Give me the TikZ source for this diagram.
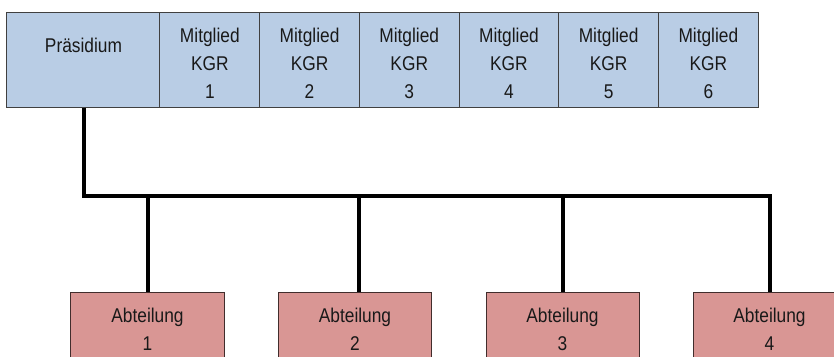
\documentclass[tikz,border=0pt]{standalone}
\usepackage{fontspec}
\setmainfont{Liberation Sans}[FakeStretch=0.87]
\usetikzlibrary{calc}
\definecolor{kgrblue}{HTML}{B9CDE5}
\definecolor{abtred}{HTML}{D99694}
\definecolor{rahmen}{HTML}{404040}

\begin{document}
\begin{tikzpicture}[x=0.03cm, y=-0.03cm,
		every node/.style={font=\fontsize{17pt}{23.9pt}\selectfont, text=black!90},
		cell/.style={draw=rahmen, line width=0.3mm, fill=kgrblue, minimum height=2.85cm, inner sep=0pt},
		abtbox/.style={draw=black!70!abtred, line width=0.3mm, fill=abtred, minimum width=4.59cm, minimum height=2.22cm, align=center, inner sep=0pt},
		celltext/.style={align=center, inner sep=0pt},
		bus/.style={line width=1.2mm}]
			%%%%% START %%%%%
			
			\useasboundingbox (0, 0) rectangle (834, 356);
			\clip (0, 0) rectangle (834, 356);
			
			% obere Reihe
			\node[cell, minimum width=4.59cm, label={[celltext, yshift=0.435cm]center:Präsidium}] (praesidium) at (83.5, 59.5) {};
			\foreach \i in {1,...,6}
				\node[cell, minimum width=2.991cm, label={[celltext, yshift=-0.12cm]center:Mitglied\\KGR\\\i}] (kgr\i) at ({160+99.7*(\i-0.5)}, 59.5) {};
			
			% Abteilungen
			\node[abtbox] (abt1) at (147.5, 329) {Abteilung\\1};
			\node[abtbox] (abt2) at (355, 329) {Abteilung\\2};
			\node[abtbox] (abt3) at (562.5, 329) {Abteilung\\3};
			\node[abtbox] (abt4) at (769.5, 329) {Abteilung\\4};
			
			% Verbindungen
			\coordinate (schiene) at (0, 196);
			\draw[bus] (praesidium.south) |- (schiene -| abt4.north) -- (abt4.north);
			\draw[bus] (abt1.north) -- (abt1.north |- schiene);
			\draw[bus] ($(abt2.north)+(4,0)$) -- ($(abt2.north |- schiene)+(4,0)$);
			\draw[bus] (abt3.north) -- (abt3.north |- schiene);
			
			%%%%% END %%%%%
\end{tikzpicture}
\end{document}
